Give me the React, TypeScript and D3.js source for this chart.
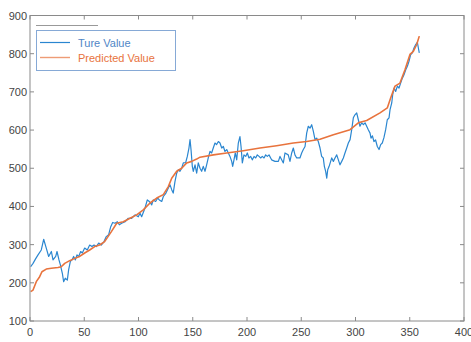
import React from "react";
import * as d3 from "d3";

const trueX = [0.6,2.8,5,7.4,10.4,12.6,15,17.2,19.7,21.2,23.7,24.9,26.7,28,29.8,31,32.5,34.4,35.6,37.2,38.7,40.2,41.8,43.3,44.9,46.7,48.2,50.4,52.8,55,57.1,59,61.1,63.3,65.7,68.2,70.3,72.5,74.4,76.2,78.3,80.5,82.3,84.5,87.6,90.6,93.7,96.8,99.8,101.4,102.9,106,108.1,110,112.2,113.6,115.8,117.7,119.2,121.4,122.9,125.3,127.5,129,130.6,132,133.6,135.2,136.7,138.2,139.8,141.3,143.5,145,146.5,147.5,148.4,149.6,150.5,152.1,153.6,155.1,156.7,158.2,159.7,161.3,162.8,164.3,165.9,167.4,168.9,170.5,172,173.6,175.1,176.7,178.2,179.7,181.3,182.8,184.3,185.9,186.8,188,189.2,190.5,192,193.5,194.5,195.7,197.2,198.8,200.3,201.8,203.4,204.9,206.5,208,209.5,211.1,212.6,214.1,215.7,217.2,218.7,220.3,221.8,222.7,225.8,228.9,230.4,233.5,235,238,239.6,241.2,242.7,244.2,245.8,248.8,250.4,251.9,253.5,255,256.5,258.1,259.6,261.1,262.7,264.2,265.7,267.3,268.8,270.3,271.3,272.5,273.5,274.4,275.7,277.1,278.1,279.6,281.1,282.7,284.2,285.7,287.3,288.8,290.3,291.9,293.4,295,296.5,298,299.5,301.1,302.6,304.1,305.7,307.3,308.8,310.3,311.8,313.4,314.3,315.6,317,318.5,320.1,321.7,323.2,324.7,326.2,327.8,329.3,330.9,331.8,333.4,334.3,335.5,337,338.6,340.1,341.6,343.2,344.7,346.3,347.8,349.3,350.9,352.4,353.9,355.5,357,358.2,358.8];
const trueValues = [242,251,262,273,286,314,291,269,282,260,269,282,260,247,225,203,212,207,234,256,260,269,260,273,269,282,278,291,286,299,295,299,295,304,299,308,321,326,347,358,356,360,352,356,360,369,369,378,373,382,373,396,417,413,404,417,413,422,417,413,426,435,448,457,444,435,465,487,496,492,500,514,515,531,553,575,549,505,492,509,487,514,500,492,505,492,509,527,544,540,553,566,562,570,566,553,557,544,549,540,531,518,505,522,540,522,566,583,557,514,535,531,540,527,531,522,531,527,535,531,527,531,527,535,531,535,527,522,518,518,531,514,540,535,518,540,553,535,527,527,540,549,557,592,610,605,614,597,575,579,570,553,531,527,505,492,474,496,505,518,527,518,527,535,522,509,518,527,540,553,566,575,601,632,640,645,627,610,619,614,619,610,601,592,579,585,570,574,557,549,562,566,580,601,627,632,653,671,693,710,701,715,710,723,736,745,758,767,780,798,802,815,824,830,811,802];

const predX = [0.6,2.8,5.8,8.9,11,15,19.7,25.8,28.8,32,36.6,41.2,45.8,50.4,55,59.6,64.2,68.8,71.9,75,79.9,86,92.2,98.3,104.4,110.6,116.8,122.9,127.5,130.6,135.2,139.8,144.4,149,153.6,156.7,169,181.3,196.6,212,227.3,242.7,255,267.3,279.6,295,302.6,310.3,322.6,329.3,332.4,336.4,341,345.6,350.2,353.3,356.4,358.8];
const predValues = [177,181,203,216,229,236,238,240,242,251,258,264,269,278,286,295,299,308,321,334,356,360,369,378,391,409,422,431,452,474,492,500,514,518,524,529,535,540,546,553,559,566,570,576,588,601,619,625,645,658,684,715,723,758,798,806,824,846];

const xTicks = [0, 50, 100, 150, 200, 250, 300, 350, 400];
const yTicks = [100, 200, 300, 400, 500, 600, 700, 800, 900];
const legendLabels = ["Ture Value", "Predicted Value"];

const W = 471, H = 342;
const L = 30, R = 464, T = 15.5, B = 321;
const BLUE = "#2a86d0";
const ORANGE = "#e8733d";
const FONT = "Liberation Sans, Arial, sans-serif";

export default function App() {
  const x = d3.scaleLinear().domain([0, 400]).range([L, R]);
  const y = d3.scaleLinear().domain([100, 900]).range([B, T]);
  const line = d3.line<[number, number]>().x(d => x(d[0])).y(d => y(d[1]));
  const truePts = trueX.map((v, i) => [v, trueValues[i]] as [number, number]);
  const predPts = predX.map((v, i) => [v, predValues[i]] as [number, number]);
  const axisColor = "#8a8a8a";
  const textColor = "#444";
  return (
    <svg width={W} height={H} style={{ position: "absolute", left: 0, top: 0, background: "#fff" }}>
      <rect x={0} y={0} width={W} height={H} fill="#fff" />
      <path d={line(truePts) || ""} fill="none" stroke={BLUE} strokeWidth={1.2} strokeLinejoin="round" />
      <path d={line(predPts) || ""} fill="none" stroke={ORANGE} strokeWidth={1.6} strokeLinejoin="round" />
      <rect x={L} y={T} width={R - L} height={B - T} fill="none" stroke={axisColor} strokeWidth={1} />
      {xTicks.map(t => (
        <g key={"x" + t}>
          <line x1={x(t)} x2={x(t)} y1={B} y2={B - 4} stroke={axisColor} />
          <line x1={x(t)} x2={x(t)} y1={T} y2={T + 4} stroke={axisColor} />
          <text x={x(t)} y={B + 15} textAnchor="middle" fontSize={11} fill={textColor} fontFamily={FONT}>{t}</text>
        </g>
      ))}
      {yTicks.map(t => (
        <g key={"y" + t}>
          <line x1={L} x2={L + 4} y1={y(t)} y2={y(t)} stroke={axisColor} />
          <line x1={R} x2={R - 4} y1={y(t)} y2={y(t)} stroke={axisColor} />
          <text x={L - 3} y={y(t) + 4} textAnchor="end" fontSize={11} fill={textColor} fontFamily={FONT}>{t}</text>
        </g>
      ))}
      <line x1={36} x2={98} y1={25.5} y2={25.5} stroke="#999" strokeWidth={1} />
      <rect x={36.5} y={30.5} width={139} height={40} fill="#fff" stroke="#86a9d6" strokeWidth={1} />
      <line x1={40} x2={70} y1={42.5} y2={42.5} stroke={BLUE} strokeWidth={1.2} />
      <line x1={40} x2={70} y1={57.5} y2={57.5} stroke={ORANGE} strokeWidth={1.4} opacity={0.7} />
      <text x={78} y={46.5} fontSize={11} fill="#4f86c6" fontFamily={FONT}>{legendLabels[0]}</text>
      <text x={78} y={61.5} fontSize={11} fill="#e8733d" fontFamily={FONT}>{legendLabels[1]}</text>
    </svg>
  );
}
